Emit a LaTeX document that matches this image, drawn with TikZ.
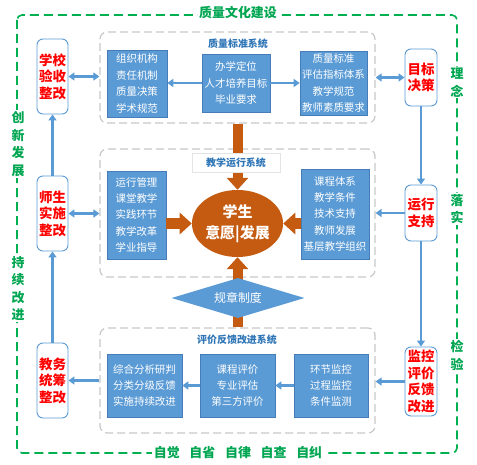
\documentclass[tikz,border=0pt]{standalone}
\usepackage{fontspec}
\setmainfont{Noto Sans CJK SC}
\usetikzlibrary{arrows.meta,shapes.geometric}
\definecolor{bfill}{RGB}{91,155,213}
\definecolor{bborder}{RGB}{70,125,185}
\definecolor{lblue}{RGB}{91,155,213}
\definecolor{oran}{RGB}{197,90,17}
\definecolor{tblue}{RGB}{46,117,182}
\definecolor{gline}{RGB}{0,176,80}
\definecolor{gtext}{RGB}{0,166,81}
\definecolor{rtext}{RGB}{255,0,0}
\definecolor{pgray}{RGB}{200,200,200}
\tikzset{
  greenlbl/.style={text=gtext, font=\bfseries\fontsize{13}{17.5}\selectfont, fill=white, align=center, inner sep=1.5bp},
  redbox/.style={draw=lblue, line width=0.9bp, rounded corners=6bp, fill=white, text=rtext, font=\bfseries\fontsize{13.5}{16.5}\selectfont, align=center, inner sep=0pt, minimum width=31bp},
  bluebox/.style={fill=bfill, draw=bborder, line width=0.6bp, text=white, font=\fontsize{10.5}{16.5}\selectfont, align=center, inner sep=0pt},
  panel/.style={draw=pgray, line width=1.2bp, dash pattern=on 8bp off 4bp, rounded corners=7bp, inner sep=0pt},
  ptitle/.style={text=tblue, font=\bfseries\fontsize{10}{12}\selectfont, inner sep=1bp},
  barrow/.style={draw=lblue, line width=2.2bp, -{Triangle[length=6bp,width=8bp]}},
  dbarrow/.style={draw=lblue, line width=2.2bp, {Triangle[length=6bp,width=8bp]}-{Triangle[length=6bp,width=8bp]}},
  oarrow/.style={draw=oran, line width=10bp, -{Triangle[length=12bp,width=21bp]}},
}
\begin{document}
\begin{tikzpicture}[x=1bp,y=-1bp]
\useasboundingbox (0,0) rectangle (477,465);
% outer green frame
\draw[gline, line width=1.6bp, dash pattern=on 9bp off 5bp, rounded corners=5bp] (17,15) rectangle (457,453);
\node[greenlbl] (ttop) at (238,13) {质量文化建设};
\node[greenlbl] (tbot) at (238,453) {自觉\hspace{0.75em}自省\hspace{0.75em}自律\hspace{0.75em}自查\hspace{0.75em}自纠};
\node[greenlbl] (lcx) at (18,144) {创\\新\\发\\展};
\node[greenlbl] (lcx2) at (18,288.5) {持\\续\\改\\进};
\node[greenlbl] (rln) at (457,82.5) {理\\念};
\node[greenlbl] (rls) at (457,209) {落\\实};
\node[greenlbl] (rjy) at (457,355.5) {检\\验};

% panels
\node[panel, minimum width=275bp, minimum height=91bp] (p1) at (237.5,77.5) {};
\node[panel, minimum width=275bp, minimum height=128bp] (p2) at (237.5,213) {};
\node[panel, minimum width=275bp, minimum height=105bp] (p3) at (237.5,380.5) {};
\node[ptitle] (t1) at (238,43.5) {质量标准系统};
\node[ptitle] (t3) at (237,340) {评价反馈改进系统};

% side boxes
\node[redbox, minimum height=75bp] (L1) at (52.5,76.5) {学校\\验收\\整改};
\node[redbox, minimum height=75bp] (L2) at (52.5,213.5) {师生\\实施\\整改};
\node[redbox, minimum height=75bp] (L3) at (52.5,380.5) {教务\\统筹\\整改};
\node[redbox, minimum width=32bp, minimum height=57bp] (R1) at (421,77.5) {目标\\决策};
\node[redbox, minimum width=32bp, minimum height=56bp] (R2) at (421,213) {运行\\支持};
\node[redbox, minimum width=32bp, minimum height=69bp] (R3) at (421,381.5) {监控\\评价\\反馈\\改进};

% blue boxes
\node[bluebox, minimum width=60bp, minimum height=67bp] (A) at (137,83.5) {组织机构\\责任机制\\质量决策\\学术规范};
\node[bluebox, minimum width=68bp, minimum height=58bp] (B) at (236,83) {办学定位\\人才培养目标\\毕业要求};
\node[bluebox, minimum width=67bp, minimum height=64bp] (C) at (333.5,83) {质量标准\\评估指标体系\\教学规范\\教师素质要求};
\node[bluebox, minimum width=59bp, minimum height=88bp] (D) at (136.5,215) {运行管理\\课堂教学\\实践环节\\教学改革\\学业指导};
\node[bluebox, minimum width=68bp, minimum height=90bp] (E) at (335,214) {课程体系\\教学条件\\技术支持\\教师发展\\基层教学组织};
\node[bluebox, minimum width=75bp, minimum height=63bp] (F) at (144.5,385.5) {综合分析研判\\分类分级反馈\\实施持续改进};
\node[bluebox, minimum width=75bp, minimum height=63bp] (G) at (237.5,385.5) {课程评价\\专业评估\\第三方评价};
\node[bluebox, minimum width=74bp, minimum height=63bp] (H) at (331,385.5) {环节监控\\过程监控\\条件监测};

% ellipse
\node[ellipse, fill=oran, text=white, font=\bfseries\fontsize{15}{21}\selectfont, align=center, minimum width=85bp, minimum height=67bp, inner sep=0pt] (ell) at (237.5,223.5) {学生\\意愿|发展};

% orange arrows
\draw[oarrow] (D.east |- ell.center) -- (ell.west);
\draw[oarrow] (E.west |- ell.center) -- (ell.east);
\draw[oarrow] (p1.south) -- (ell.north);
\draw[oarrow] (p3.north) -- (ell.south);

% overlay title and diamond
\node[fill=white, draw=pgray!50, line width=0.6bp, minimum width=88bp, minimum height=19bp, inner sep=0pt, text=tblue, font=\bfseries\fontsize{10}{12}\selectfont] (t2) at (236,162.5) {教学运行系统};
\node[diamond, fill=bfill, text=white, font=\fontsize{12}{14}\selectfont, minimum width=133bp, minimum height=40bp, inner sep=0pt, shape aspect=3.3] (dia) at (238,298) {规章制度};

% blue arrows inside panels
\draw[barrow] (B.west) -- (B.west -| A.east);
\draw[barrow] (B.east) -- (B.east -| C.west);
\draw[barrow] (H.west) -- (H.west -| G.east);
\draw[barrow] (G.west) -- (G.west -| F.east);

% side connections
\draw[dbarrow] (L1.east) -- (L1.east -| p1.west);
\draw[dbarrow] (R1.west) -- (R1.west -| p1.east);
\draw[dbarrow] (L2.east) -- (L2.east -| p2.west);
\draw[barrow] (R2.west) -- (R2.west -| p2.east);
\draw[barrow] (p3.west |- L3.east) -- (L3.east);
\draw[barrow] (R3.west) -- (R3.west -| p3.east);

% vertical chains
\draw[barrow] (L3.north) -- (L2.south);
\draw[barrow] (L2.north) -- (L1.south);
\draw[barrow] (R1.south) -- (R2.north);
\draw[barrow] (R2.south) -- (R3.north);
\end{tikzpicture}
\end{document}
